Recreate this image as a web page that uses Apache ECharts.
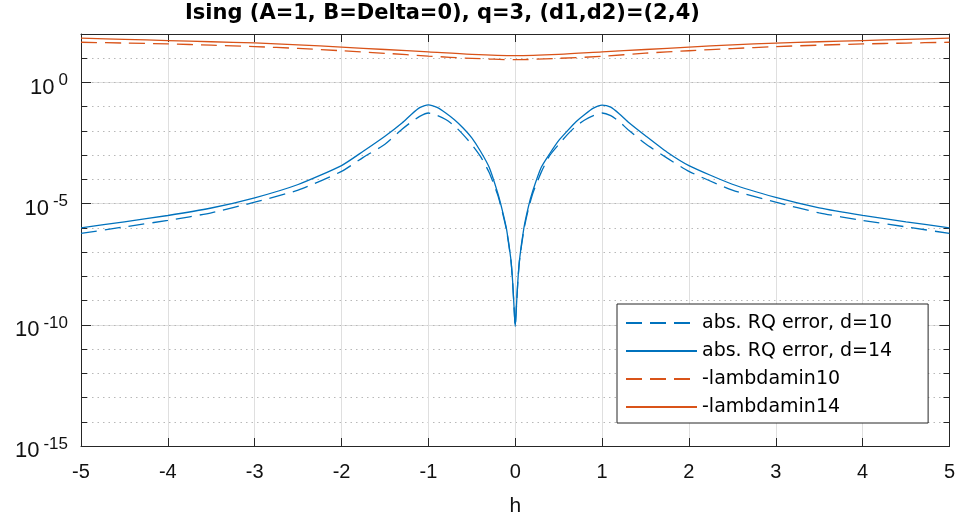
<!DOCTYPE html>
<html>
<head>
<meta charset="utf-8">
<title>Ising RQ error</title>
<script src="https://cdn.jsdelivr.net/npm/echarts@6/dist/echarts.min.js"></script>
<style>
  html, body { margin: 0; padding: 0; background: #fff; }
  #chart { width: 958px; height: 522px; }
</style>
</head>
<body>
<div id="chart"></div>
<script>
// h grid for the RQ error curves
const hFine = [-5, -4.5, -4, -3.5, -3, -2.5, -2, -1.75, -1.5, -1.3, -1.2, -1.1, -1, -0.9, -0.8, -0.7, -0.6, -0.5, -0.4, -0.3, -0.2, -0.15, -0.1, -0.05, -0.03, -0.01, 0,
  0.01, 0.03, 0.05, 0.1, 0.15, 0.2, 0.3, 0.4, 0.5, 0.6, 0.7, 0.8, 0.9, 1, 1.1, 1.2, 1.3, 1.5, 1.75, 2, 2.5, 3, 3.5, 4, 4.5, 5];

const errD14 = [1.0e-6, 1.78e-6, 3.24e-6, 6.61e-6, 1.74e-5, 6.17e-5, 3.72e-4, 1.45e-3, 6.03e-3, 2.19e-2, 4.68e-2, 9.12e-2, 1.20e-1, 9.33e-2, 5.50e-2, 2.88e-2, 1.32e-2, 5.13e-3, 1.45e-3, 3.16e-4, 2.63e-5, 5.50e-6, 8.91e-7, 5.01e-8, 6.31e-9, 3.16e-10, 8.51e-11,
  3.2e-10, 6.3e-9, 5.0e-8, 1.0e-6, 7.08e-6, 3.16e-5, 3.16e-4, 1.20e-3, 3.98e-3, 1.0e-2, 2.40e-2, 4.79e-2, 8.71e-2, 1.17e-1, 9.55e-2, 5.01e-2, 2.34e-2, 6.31e-3, 1.32e-3, 3.72e-4, 6.31e-5, 1.82e-5, 6.76e-6, 3.31e-6, 1.78e-6, 1.0e-6];

const errD10 = [5.89e-7, 1.10e-6, 2.04e-6, 4.17e-6, 1.15e-5, 3.63e-5, 2.14e-4, 8.13e-4, 2.82e-3, 1.20e-2, 2.29e-2, 3.98e-2, 5.50e-2, 4.37e-2, 2.95e-2, 1.62e-2, 7.08e-3, 2.75e-3, 8.91e-4, 1.91e-4, 2.19e-5, 4.79e-6, 7.94e-7, 4.68e-8, 6.03e-9, 3.1e-10, 8.5e-11,
  3.1e-10, 6.0e-9, 4.7e-8, 8.32e-7, 5.62e-6, 2.51e-5, 2.0e-4, 1.0e-3, 2.75e-3, 7.08e-3, 1.58e-2, 2.82e-2, 4.27e-2, 5.50e-2, 4.27e-2, 2.40e-2, 1.12e-2, 2.95e-3, 7.59e-4, 2.14e-4, 3.63e-5, 1.15e-5, 4.17e-6, 2.04e-6, 1.10e-6, 5.89e-7];

// h grid for -lambdamin curves
const hCoarse = [-5, -4.5, -4, -3.5, -3, -2.5, -2, -1.5, -1, -0.5, 0, 0.5, 1, 1.5, 2, 2.5, 3, 3.5, 4, 4.5, 5];
const lambdaMin14 = [67.6, 60.3, 53.7, 47.9, 42.7, 35.5, 28.8, 22.9, 18.2, 14.5, 12.9, 14.5, 18.2, 22.9, 28.8, 35.5, 42.0, 47.9, 53.7, 60.3, 67.6];
const lambdaMin10 = [45.7, 42.2, 38.9, 34.7, 30.2, 25.4, 20.4, 16.0, 12.3, 9.9, 8.7, 9.9, 12.0, 16.2, 20.4, 25.1, 30.2, 34.7, 38.9, 42.2, 45.7];

// decades of the y axis (exponents), major every 5, minor every 1
const yExpMin = -15;
const yExpMax = 2;

const names = ['abs. RQ error, d=10', 'abs. RQ error, d=14', '-lambdamin10', '-lambdamin14'];
const blue = '#0072BD';
const orange = '#D95319';
const axisColor = '#262626';
const font = 'Liberation Sans';

const chart = echarts.init(document.getElementById('chart'), null, { renderer: 'canvas' });

function pairs(xs, ys) {
  return xs.map((x, i) => [x, ys[i]]);
}

// value axes over the exponent range only draw the frame, ticks and grid
function frameAxis(extra) {
  return Object.assign({
    type: 'value', min: yExpMin, max: yExpMax,
    axisLine: { show: false, onZero: false },
    axisTick: { show: false },
    axisLabel: { show: false },
    splitLine: { show: false }
  }, extra);
}

const option = {
  animation: false,
  backgroundColor: '#fff',
  title: {
    text: 'Ising (A=1, B=Delta=0), q=3, (d1,d2)=(2,4)',
    left: 185, top: 3, padding: 0,
    textStyle: { fontFamily: 'DejaVu Sans', fontWeight: 'bold', fontSize: 21, color: '#000' }
  },
  grid: { left: 81, right: 7, top: 34, bottom: 75 },
  legend: {
    data: names,
    orient: 'vertical',
    left: 617, top: 304,
    itemWidth: 71, itemHeight: 14, itemGap: 8,
    padding: [9, 36, 6, 8],
    borderColor: axisColor, borderWidth: 1,
    backgroundColor: '#fff',
    selectedMode: false,
    itemStyle: { opacity: 0 },
    textStyle: { fontFamily: 'DejaVu Sans', fontSize: 19, color: '#000', lineHeight: 20 }
  },
  xAxis: [
    {
      type: 'value', min: -5, max: 5, interval: 1,
      name: 'h', nameLocation: 'middle', nameGap: 50,
      nameTextStyle: { fontFamily: font, fontSize: 21, color: '#111' },
      axisLine: { onZero: false, lineStyle: { color: axisColor, width: 1 } },
      axisTick: { inside: true, length: 8, lineStyle: { color: axisColor } },
      axisLabel: { fontFamily: font, fontSize: 20, color: '#111', margin: 16 },
      splitLine: { show: true, lineStyle: { color: '#dfdfdf', width: 1 } }
    },
    {
      type: 'value', min: -5, max: 5, interval: 1, position: 'top',
      axisLine: { onZero: false, lineStyle: { color: axisColor, width: 1 } },
      axisTick: { inside: true, length: 8, lineStyle: { color: axisColor } },
      axisLabel: { show: false },
      splitLine: { show: false }
    }
  ],
  yAxis: [
    // data axis
    { type: 'log', logBase: 10, min: Math.pow(10, yExpMin), max: Math.pow(10, yExpMax), show: false },
    // major decades, labelled
    frameAxis({
      position: 'left', interval: 5,
      axisLine: { show: true, onZero: false, lineStyle: { color: axisColor, width: 1 } },
      axisTick: { show: true, inside: true, length: 10, lineStyle: { color: axisColor } },
      axisLabel: {
        show: true, margin: 13,
        formatter: (v) => v > 0 ? '' : '{b|10}{s|' + v + '}',
        rich: {
          b: { fontFamily: font, fontSize: 22, lineHeight: 22, color: '#111', padding: [10, 0, 0, 0] },
          s: { fontFamily: font, fontSize: 17, lineHeight: 17, color: '#111', padding: [0, 0, 4, 4] }
        }
      },
      splitLine: { show: true, lineStyle: { color: '#dfdfdf', width: 1 } }
    }),
    // minor decades, dotted grid
    frameAxis({
      position: 'left', interval: 1,
      axisTick: { show: true, inside: true, length: 6, lineStyle: { color: axisColor } },
      splitLine: { show: true, lineStyle: { color: '#b8b8b8', width: 1, type: [1.5, 4] } }
    }),
    frameAxis({
      position: 'right', interval: 1,
      axisLine: { show: true, onZero: false, lineStyle: { color: axisColor, width: 1 } },
      axisTick: { show: true, inside: true, length: 6, lineStyle: { color: axisColor } }
    }),
    frameAxis({
      position: 'right', interval: 5,
      axisTick: { show: true, inside: true, length: 10, lineStyle: { color: axisColor } }
    })
  ],
  series: [
    {
      name: names[0], type: 'line', yAxisIndex: 0, symbol: 'none', smooth: 0.2,
      color: blue,
      lineStyle: { color: blue, width: 1.3, type: [16, 8] },
      data: pairs(hFine, errD10)
    },
    {
      name: names[1], type: 'line', yAxisIndex: 0, symbol: 'none', smooth: 0.2,
      color: blue,
      lineStyle: { color: blue, width: 1.3 },
      data: pairs(hFine, errD14)
    },
    {
      name: names[2], type: 'line', yAxisIndex: 0, symbol: 'none', smooth: 0.3,
      color: orange,
      lineStyle: { color: orange, width: 1.3, type: [16, 8] },
      data: pairs(hCoarse, lambdaMin10)
    },
    {
      name: names[3], type: 'line', yAxisIndex: 0, symbol: 'none', smooth: 0.3,
      color: orange,
      lineStyle: { color: orange, width: 1.3 },
      data: pairs(hCoarse, lambdaMin14)
    }
  ]
};

chart.setOption(option);
</script>
</body>
</html>
